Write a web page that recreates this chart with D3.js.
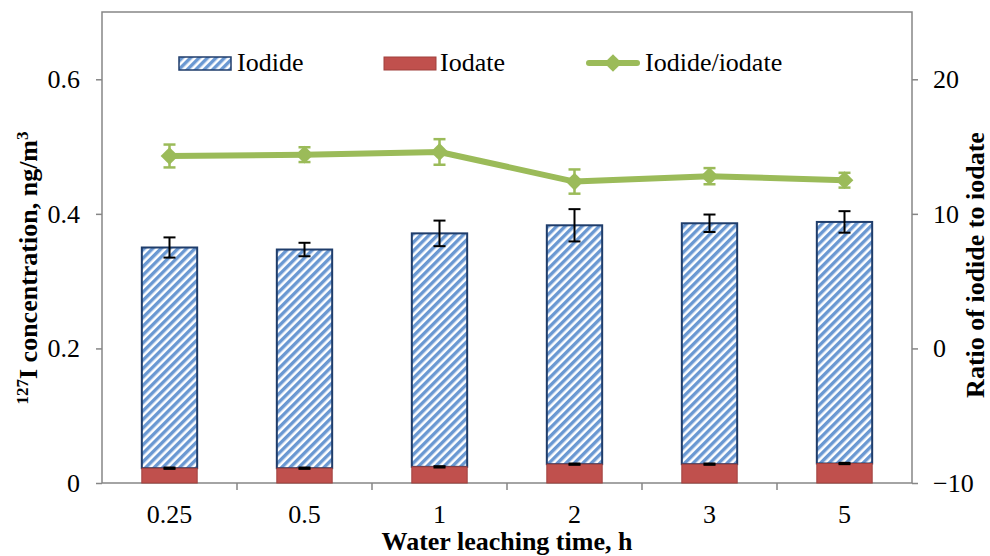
<!DOCTYPE html>
<html>
<head>
<meta charset="utf-8">
<script src="https://cdn.jsdelivr.net/npm/d3@7"></script>
<style>
  body { margin: 0; background: #fff; }
  svg { font-family: "Liberation Serif", "Times New Roman", serif; }
  .axis path, .axis line { stroke: #868686; stroke-width: 1.5px; }
  .axis text { font-family: "Liberation Serif", "Times New Roman", serif; font-size: 26px; fill: #000; }
</style>
</head>
<body>
<svg id="chart" width="990" height="556"></svg>
<script>
// data
var times = ["0.25", "0.5", "1", "2", "3", "5"];
var iodate = [0.022, 0.022, 0.024, 0.028, 0.028, 0.029];
var iodateErr = [0.001, 0.001, 0.001, 0.001, 0.001, 0.001];
var iodide = [0.328, 0.325, 0.347, 0.355, 0.358, 0.359];
var iodideErr = [0.015, 0.010, 0.019, 0.024, 0.013, 0.016];
var ratio = [14.3, 14.4, 14.6, 12.4, 12.8, 12.5];
var ratioErr = [0.85, 0.55, 0.95, 0.9, 0.6, 0.55];
var leftTicks = [0, 0.2, 0.4, 0.6];
var rightTicks = [-10, 0, 10, 20];

var plotLeft = 102, plotRight = 912, plotTop = 12, plotBottom = 483;
var svg = d3.select("#chart");

var x = d3.scaleBand().domain(times).range([plotLeft, plotRight]).paddingInner(0.59).paddingOuter(0.295);
var xEdges = d3.scaleBand().domain(times).range([plotLeft, plotRight]);
var y = d3.scaleLinear().domain([0, 0.7]).range([plotBottom, plotTop]);
var y2 = d3.scaleLinear().domain([-10, 25]).range([plotBottom, plotTop]);

// stripe pattern for iodide
var defs = svg.append("defs");
var pat = defs.append("pattern")
    .attr("id", "stripes")
    .attr("patternUnits", "userSpaceOnUse")
    .attr("width", 6).attr("height", 6)
    .attr("patternTransform", "rotate(45)");
pat.append("rect").attr("width", 6).attr("height", 6).attr("fill", "#ffffff");
pat.append("rect").attr("width", 3.4).attr("height", 6).attr("fill", "#6a98d2");

// plot frame
svg.append("rect")
    .attr("x", plotLeft).attr("y", plotTop)
    .attr("width", plotRight - plotLeft).attr("height", plotBottom - plotTop)
    .attr("fill", "none").attr("stroke", "#868686").attr("stroke-width", 1.5);

var rows = times.map(function(t, i) {
  return {t: t, iodate: iodate[i], iodide: iodide[i], total: iodate[i] + iodide[i],
          e1: iodateErr[i], e2: iodideErr[i], r: ratio[i], re: ratioErr[i]};
});

// bars: iodate at the bottom, iodide stacked on top
svg.append("g").selectAll("rect").data(rows).join("rect")
    .attr("x", function(d) { return x(d.t); })
    .attr("width", x.bandwidth())
    .attr("y", function(d) { return y(d.total); })
    .attr("height", function(d) { return y(d.iodate) - y(d.total); })
    .attr("fill", "url(#stripes)")
    .attr("stroke", "#1f3d6b").attr("stroke-width", 2);

svg.append("g").selectAll("rect").data(rows).join("rect")
    .attr("x", function(d) { return x(d.t); })
    .attr("width", x.bandwidth())
    .attr("y", function(d) { return y(d.iodate); })
    .attr("height", function(d) { return y(0) - y(d.iodate); })
    .attr("fill", "#c0504d")
    .attr("stroke", "#a0403d").attr("stroke-width", 1);

function errorBars(g, data, cx, lo, hi, color, w, cap) {
  var sel = g.selectAll("g").data(data).join("g");
  sel.append("line")
      .attr("x1", cx).attr("x2", cx).attr("y1", lo).attr("y2", hi)
      .attr("stroke", color).attr("stroke-width", w);
  sel.append("line")
      .attr("x1", function(d) { return cx(d) - cap; }).attr("x2", function(d) { return cx(d) + cap; })
      .attr("y1", lo).attr("y2", lo).attr("stroke", color).attr("stroke-width", w);
  sel.append("line")
      .attr("x1", function(d) { return cx(d) - cap; }).attr("x2", function(d) { return cx(d) + cap; })
      .attr("y1", hi).attr("y2", hi).attr("stroke", color).attr("stroke-width", w);
}
var cx = function(d) { return x(d.t) + x.bandwidth() / 2; };

errorBars(svg.append("g"), rows, cx,
  function(d) { return y(d.iodate - d.e1); }, function(d) { return y(d.iodate + d.e1); }, "#000", 2, 6);
errorBars(svg.append("g"), rows, cx,
  function(d) { return y(d.total - d.e2); }, function(d) { return y(d.total + d.e2); }, "#000", 2, 6);

// ratio line with error bars
errorBars(svg.append("g"), rows, cx,
  function(d) { return y2(d.r - d.re); }, function(d) { return y2(d.r + d.re); }, "#9bbb59", 2.5, 6);

svg.append("path")
    .datum(rows)
    .attr("fill", "none").attr("stroke", "#9bbb59").attr("stroke-width", 6)
    .attr("stroke-linejoin", "round")
    .attr("d", d3.line().x(cx).y(function(d) { return y2(d.r); }));

var diamond = d3.symbol().type(d3.symbolDiamond2).size(200);
svg.append("g").selectAll("path").data(rows).join("path")
    .attr("transform", function(d) { return "translate(" + cx(d) + "," + y2(d.r) + ")"; })
    .attr("d", diamond)
    .attr("fill", "#9bbb59");

// axes
var xAxis = svg.append("g").attr("class", "axis")
    .attr("transform", "translate(0," + plotBottom + ")")
    .call(d3.axisBottom(x).tickSize(0).tickPadding(22));
xAxis.select(".domain").remove();
svg.append("g").attr("class", "axis").selectAll("line")
    .data(times.slice(1)).join("line")
    .attr("x1", function(t) { return xEdges(t); }).attr("x2", function(t) { return xEdges(t); })
    .attr("y1", plotBottom).attr("y2", plotBottom + 7);

var yAxis = svg.append("g").attr("class", "axis")
    .attr("transform", "translate(" + plotLeft + ",0)")
    .call(d3.axisLeft(y).tickValues(leftTicks).tickFormat(d3.format("")).tickSize(6).tickPadding(16));
yAxis.select(".domain").remove();

var y2Axis = svg.append("g").attr("class", "axis")
    .attr("transform", "translate(" + plotRight + ",0)")
    .call(d3.axisRight(y2).tickValues(rightTicks).tickSize(6).tickPadding(15));
y2Axis.select(".domain").remove();

// titles
svg.append("text")
    .attr("x", (plotLeft + plotRight) / 2).attr("y", 550)
    .attr("text-anchor", "middle")
    .attr("font-size", 26).attr("font-weight", "bold")
    .text("Water leaching time, h");

var yl = svg.append("text")
    .attr("transform", "translate(37,268) rotate(-90)")
    .attr("text-anchor", "middle")
    .attr("font-size", 26).attr("font-weight", "bold");
yl.append("tspan").attr("font-size", 17).attr("dy", -9).text("127");
yl.append("tspan").attr("dy", 9).text("I concentration, ng/m");
yl.append("tspan").attr("font-size", 17).attr("dy", -9).text("3");

svg.append("text")
    .attr("transform", "translate(984,265) rotate(-90)")
    .attr("text-anchor", "middle")
    .attr("font-size", 26).attr("font-weight", "bold")
    .text("Ratio of iodide to iodate");

// legend
var lg = svg.append("g").attr("font-size", 26);
lg.append("rect").attr("x", 179).attr("y", 57).attr("width", 52).attr("height", 13)
    .attr("fill", "url(#stripes)").attr("stroke", "#1f3d6b").attr("stroke-width", 1.5);
lg.append("text").attr("x", 237).attr("y", 71).text("Iodide");
lg.append("rect").attr("x", 384).attr("y", 57).attr("width", 52).attr("height", 13)
    .attr("fill", "#c0504d").attr("stroke", "#a0403d").attr("stroke-width", 1);
lg.append("text").attr("x", 440).attr("y", 71).text("Iodate");
lg.append("line").attr("x1", 589).attr("x2", 637).attr("y1", 63).attr("y2", 63)
    .attr("stroke", "#9bbb59").attr("stroke-width", 6).attr("stroke-linecap", "round");
lg.append("path").attr("transform", "translate(613,63)").attr("d", diamond).attr("fill", "#9bbb59");
lg.append("text").attr("x", 645).attr("y", 71).text("Iodide/iodate");
</script>
</body>
</html>
